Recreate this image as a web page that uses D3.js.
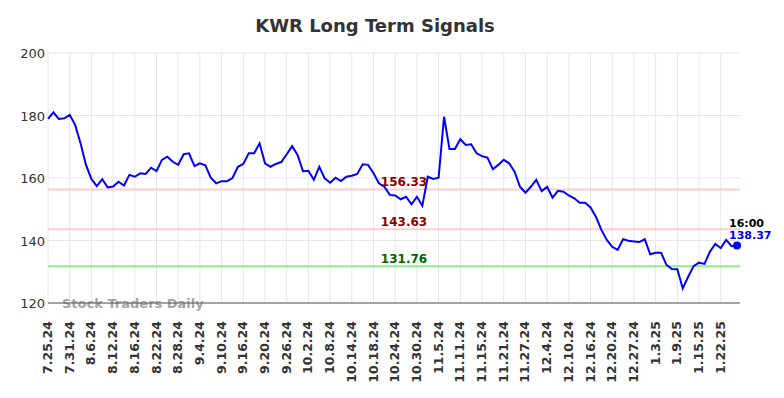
<!DOCTYPE html>
<html><head><meta charset="utf-8">
<script src="https://cdn.jsdelivr.net/npm/d3@7"></script>
<style>body{margin:0;background:#fff;}svg{display:block;font-family:"DejaVu Sans",sans-serif;}</style>
</head><body><div id="chart"></div>
<script>
const title = "KWR Long Term Signals";
const dates = ["7.25.24","7.26.24","7.29.24","7.30.24","7.31.24","8.1.24","8.2.24","8.5.24","8.6.24","8.7.24","8.8.24","8.9.24","8.12.24","8.13.24","8.14.24","8.15.24","8.16.24","8.19.24","8.20.24","8.21.24","8.22.24","8.23.24","8.26.24","8.27.24","8.28.24","8.29.24","8.30.24","9.3.24","9.4.24","9.5.24","9.6.24","9.9.24","9.10.24","9.11.24","9.12.24","9.13.24","9.16.24","9.17.24","9.18.24","9.19.24","9.20.24","9.23.24","9.24.24","9.25.24","9.26.24","9.27.24","9.30.24","10.1.24","10.2.24","10.3.24","10.4.24","10.7.24","10.8.24","10.9.24","10.10.24","10.11.24","10.14.24","10.15.24","10.16.24","10.17.24","10.18.24","10.21.24","10.22.24","10.23.24","10.24.24","10.25.24","10.28.24","10.29.24","10.30.24","10.31.24","11.1.24","11.4.24","11.5.24","11.6.24","11.7.24","11.8.24","11.11.24","11.12.24","11.13.24","11.14.24","11.15.24","11.18.24","11.19.24","11.20.24","11.21.24","11.22.24","11.25.24","11.26.24","11.27.24","11.29.24","12.2.24","12.3.24","12.4.24","12.5.24","12.6.24","12.9.24","12.10.24","12.11.24","12.12.24","12.13.24","12.16.24","12.17.24","12.18.24","12.19.24","12.20.24","12.23.24","12.24.24","12.26.24","12.27.24","12.30.24","12.31.24","1.2.25","1.3.25","1.6.25","1.7.25","1.8.25","1.9.25","1.10.25","1.13.25","1.14.25","1.15.25","1.16.25","1.17.25","1.21.25","1.22.25","1.23.25","1.24.25","1.27.25"];
const prices = [178.9,181.0,178.9,179.1,180.2,177.0,171.1,164.2,159.7,157.4,159.6,157.0,157.3,158.8,157.6,161.0,160.4,161.5,161.3,163.3,162.2,165.8,166.8,165.2,164.2,167.6,167.9,163.8,164.7,164.1,160.1,158.3,159.0,159.0,160.0,163.6,164.5,167.9,167.9,171.1,164.7,163.6,164.5,165.1,167.6,170.2,167.4,162.2,162.3,159.4,163.6,159.9,158.5,160.1,159.0,160.4,160.7,161.3,164.4,164.2,161.5,158.3,157.2,154.6,154.4,153.2,154.0,151.6,154.0,151.1,160.4,159.7,160.1,179.6,169.3,169.3,172.4,170.6,170.8,167.9,167.0,166.5,162.8,164.2,165.8,164.7,162.0,157.2,155.3,157.2,159.4,155.8,157.2,153.7,155.9,155.6,154.4,153.5,152.1,152.1,150.6,147.6,143.4,140.2,138.0,137.0,140.4,139.9,139.7,139.5,140.4,135.6,136.1,136.1,132.2,130.9,130.8,124.7,128.4,131.8,132.9,132.5,136.4,138.9,137.6,140.2,138.2,138.37];
const tickLabels = ["7.25.24","7.31.24","8.6.24","8.12.24","8.16.24","8.22.24","8.28.24","9.4.24","9.10.24","9.16.24","9.20.24","9.26.24","10.2.24","10.8.24","10.14.24","10.18.24","10.24.24","10.30.24","11.5.24","11.11.24","11.15.24","11.21.24","11.27.24","12.4.24","12.10.24","12.16.24","12.20.24","12.27.24","1.3.25","1.9.25","1.15.25","1.22.25"];
const yTicks = [120,140,160,180,200];
const levelValues = [156.33,143.63,131.76];
const levelKinds = ["resistance","resistance","support"];
const lastTime = "16:00";

(function(){
const W = 784, H = 398;
const svg = d3.select("#chart").append("svg").attr("width", W).attr("height", H);
const mL = 48, mR = 740, mT = 53, mB = 303;
const x = d3.scalePoint().domain(dates).range([mL, 737]);
const y = d3.scaleLinear().domain([120, 200]).range([mB, mT]);

svg.append("text").attr("x", 375).attr("y", 32).attr("text-anchor","middle")
  .attr("font-size", 18).attr("font-weight","bold").attr("fill","#333").text(title);

const g = svg.append("g");
g.selectAll("line.h").data(yTicks).join("line")
  .attr("x1", mL).attr("x2", mR).attr("y1", d=>y(d)).attr("y2", d=>y(d))
  .attr("stroke","#e6e6e6").attr("stroke-width",1);
g.selectAll("line.v").data(tickLabels).join("line")
  .attr("x1", d=>x(d)).attr("x2", d=>x(d)).attr("y1", mT).attr("y2", mB)
  .attr("stroke","#e6e6e6").attr("stroke-width",1);

svg.selectAll("text.yl").data(yTicks).join("text")
  .attr("x", 45).attr("y", d=>y(d)+5).attr("text-anchor","end")
  .attr("font-size", 13).attr("fill","#333").text(d=>d);

svg.selectAll("text.xl").data(tickLabels).join("text")
  .attr("transform", d=>`translate(${x(d)+4},${mB+18}) rotate(-90)`)
  .attr("text-anchor","end").attr("font-size", 12.5).attr("font-weight","bold")
  .attr("fill","#333").text(d=>d);

const levelColor = k => k==="support" ? "#90ee90" : "#ffcccc";
const levelText = k => k==="support" ? "#006400" : "#8b0000";
svg.selectAll("line.lv").data(levelValues).join("line")
  .attr("x1", mL).attr("x2", mR).attr("y1", d=>y(d)).attr("y2", d=>y(d))
  .attr("stroke",(d,i)=>levelColor(levelKinds[i])).attr("stroke-width",2);

svg.append("text").attr("x", 62).attr("y", 308).attr("font-size", 13).attr("font-weight","bold")
  .attr("fill","#999").attr("fill-opacity",0.9).text("Stock Traders Daily");

svg.append("line").attr("x1", mL).attr("x2", mR).attr("y1", mB).attr("y2", mB)
  .attr("stroke","#555").attr("stroke-width",1);

svg.append("path").datum(prices)
  .attr("d", d3.line().x((d,i)=>x(dates[i])).y(d=>y(d)))
  .attr("fill","none").attr("stroke","#0000ff").attr("stroke-width",2);

svg.selectAll("text.lt").data(levelValues).join("text")
  .attr("x", 404).attr("y", d=>y(d)-3).attr("text-anchor","middle")
  .attr("font-size", 12).attr("font-weight","bold")
  .attr("fill",(d,i)=>levelText(levelKinds[i])).text(d=>d.toFixed(2));

const lastI = prices.length-1;
svg.append("circle").attr("cx", x(dates[lastI])).attr("cy", y(prices[lastI])).attr("r", 4).attr("fill","#0000ff");
svg.append("text").attr("x", 729).attr("y", y(prices[lastI])-19).attr("font-size", 11).attr("font-weight","bold")
  .attr("fill","#000").text(lastTime);
svg.append("text").attr("x", 729).attr("y", y(prices[lastI])-6.5).attr("font-size", 11).attr("font-weight","bold")
  .attr("fill","#0000ff").text(prices[lastI].toFixed(2));
})();
</script></body></html>
